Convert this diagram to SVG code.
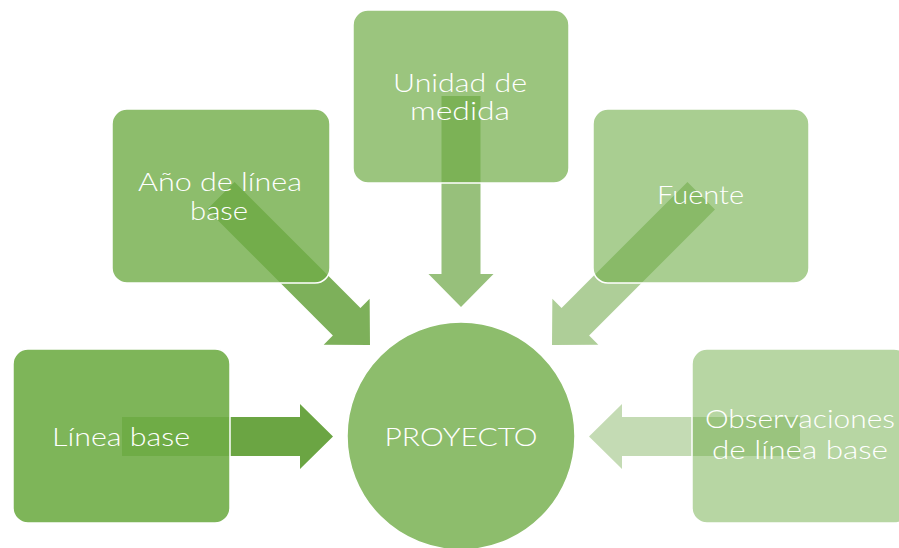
<svg xmlns="http://www.w3.org/2000/svg" width="899" height="548" viewBox="0 0 899 548">
  <style>
    .box { fill: #70AD47; stroke: #ffffff; stroke-width: 1.5; }
    .arrow { fill: #6BA543; }
    .lbl { fill: #ffffff; font-family: "Century Gothic", "Lato", "Open Sans", "DejaVu Sans", sans-serif; font-weight: 300; font-size: 25.5px; text-anchor: middle; }
  </style>
  <defs>
    <path id="arr" d="M0,0 L-33,-32.5 V-19.5 H-211 V19.5 H-33 V32.5 Z"/>
  </defs>
  <rect width="899" height="548" fill="#ffffff"/>

  <g id="connectors">
    <use href="#arr" class="arrow" transform="translate(333,436.5)"/>
    <use href="#arr" class="arrow" fill-opacity="0.88" transform="translate(370,345) rotate(45)"/>
    <use href="#arr" class="arrow" fill-opacity="0.7" transform="translate(461,307) rotate(90)"/>
    <use href="#arr" class="arrow" fill-opacity="0.55" transform="translate(552,345) rotate(135)"/>
    <use href="#arr" class="arrow" fill-opacity="0.4" transform="translate(589,436.5) rotate(180)"/>
  </g>

  <g id="node-proyecto">
    <circle cx="461" cy="436" r="114" fill="#8DBD6C" stroke="#ffffff" stroke-width="1.5"/>
    <text class="lbl" x="461" y="446" textLength="153" lengthAdjust="spacingAndGlyphs">PROYECTO</text>
  </g>

  <g id="node-linea-base">
    <rect class="box" fill-opacity="0.9" x="13" y="349" width="217" height="174" rx="15"/>
    <text class="lbl" x="121" y="446" textLength="138" lengthAdjust="spacingAndGlyphs">Línea base</text>
  </g>

  <g id="node-anio">
    <rect class="box" fill-opacity="0.8" x="112" y="109" width="218" height="174" rx="15"/>
    <text class="lbl" x="220" y="191" textLength="164" lengthAdjust="spacingAndGlyphs">Año de línea</text>
    <text class="lbl" x="219" y="220" textLength="58" lengthAdjust="spacingAndGlyphs">base</text>
  </g>

  <g id="node-unidad">
    <rect class="box" fill-opacity="0.7" x="353" y="10" width="216" height="173" rx="15"/>
    <text class="lbl" x="460" y="92" textLength="134" lengthAdjust="spacingAndGlyphs">Unidad de</text>
    <text class="lbl" x="460" y="120" textLength="100" lengthAdjust="spacingAndGlyphs">medida</text>
  </g>

  <g id="node-fuente">
    <rect class="box" fill-opacity="0.6" x="593" y="109" width="216" height="174" rx="15"/>
    <text class="lbl" x="700.5" y="204" textLength="87" lengthAdjust="spacingAndGlyphs">Fuente</text>
  </g>

  <g id="node-observaciones">
    <rect class="box" fill-opacity="0.5" x="692" y="349" width="217" height="174" rx="15"/>
    <text class="lbl" x="800" y="428" textLength="190" lengthAdjust="spacingAndGlyphs">Observaciones</text>
    <text class="lbl" x="800" y="459" textLength="176" lengthAdjust="spacingAndGlyphs">de línea base</text>
  </g>
</svg>
